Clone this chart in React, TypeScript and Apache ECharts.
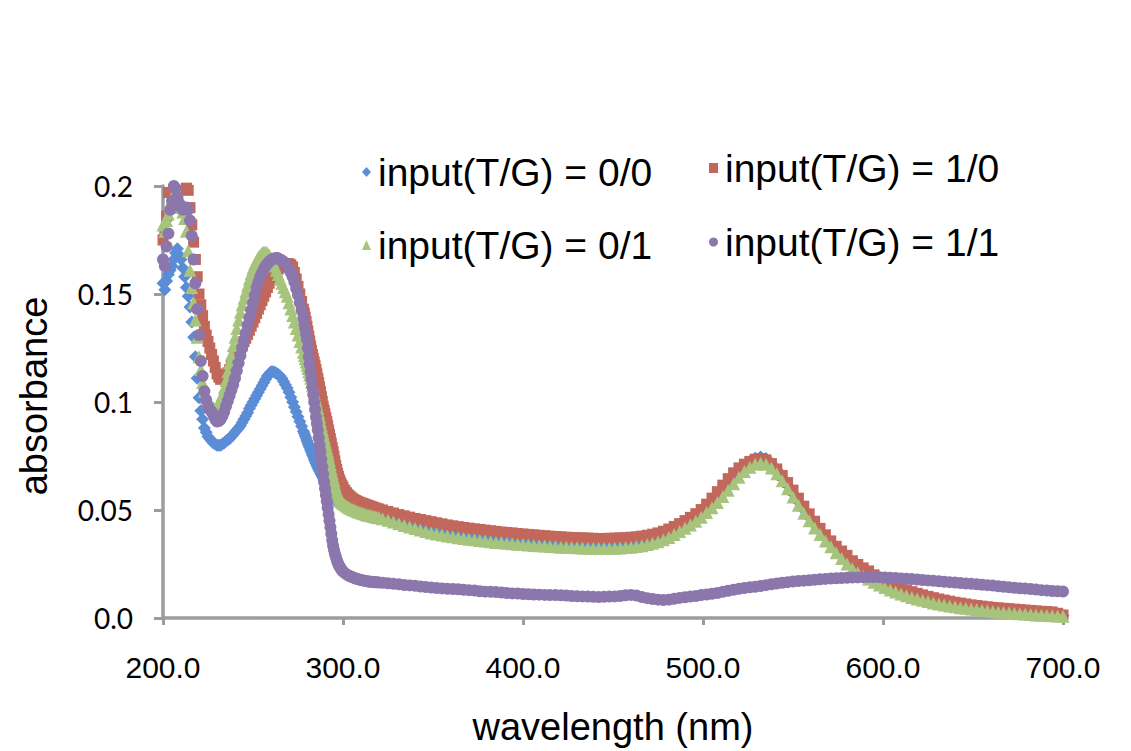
import React, { useEffect, useRef } from "react";
import * as echarts from "echarts";

// wavelength sampling grid: [start, end, step]
const wavelengthSegments: [number, number, number][] = [
  [200, 277, 1],
  [278, 300, 0.5],
  [301, 320, 1],
  [322, 700, 3],
];

const seriesNames = [
  "input(T/G) = 0/0",
  "input(T/G) = 1/0",
  "input(T/G) = 0/1",
  "input(T/G) = 1/1",
];

const xTicks = [200, 300, 400, 500, 600, 700];
const xTickLabels = ["200.0", "300.0", "400.0", "500.0", "600.0", "700.0"];
const yTickLabels = ["0.0", "0.05", "0.1", "0.15", "0.2"];

// input(T/G) = 0/0
const blue00 = [
  .155, .152, .156, .159, .161, .163, .166, .169, .171, .168,
  .166, .162, .158, .153, .149, .144, .137, .130, .121, .111,
  .102, .096, .092, .088, .086, .084, .083, .082, .081, .0805,
  .080, .080, .080, .0805, .081, .082, .0825, .083, .084, .085,
  .086, .087, .088, .089, .0905, .092, .0935, .095, .097, .0985,
  .100, .1015, .103, .1045, .106, .1075, .109, .1105, .112, .113,
  .114, .114, .1138, .1133, .1127, .112, .111, .1095, .108, .1065,
  .1045, .1022, .100, .0977, .0955, .0932, .091, .0888,
  .0865, .0854, .0843, .0832, .082, .0809, .0798, .0788, .0777, .0767,
  .0756, .0746, .0735, .0725, .0715, .0706, .0697, .0688, .068, .0671,
  .0663, .0655, .0647, .0638, .063, .0622, .0613, .0605, .0597, .0588,
  .058, .0573, .0567, .056, .0553, .0547, .054, .0538, .0536, .0534,
  .0532, .053, .0528, .0526, .0524,
  .052, .0514, .0509, .0504, .05, .0496, .0492, .0489, .0486, .0483,
  .048, .0477, .0474, .0472, .047, .0468, .0466, .0464, .0462, .046,
  .0468, .046, .0452, .0444, .0436, .0429, .0422, .0415, .0408, .0402,
  .0397, .0392, .0388, .0384, .038, .0376, .0373, .037, .0367, .0364,
  .0361, .0358, .0356, .0354, .0352, .035, .0348, .0346, .0344, .0342,
  .0341, .0339, .0338, .0336, .0335, .0334, .0333, .0332, .0331, .033,
  .033, .033, .033, .0331, .0332, .0334, .0336, .0339, .0343, .0348,
  .0354, .0362, .0372, .0384, .0398, .0413, .0429, .0446, .0464, .0484,
  .0507, .0532, .0559, .0588, .0619, .0649, .0677, .0703, .0725, .074,
  .0745, .0738, .0718, .0688, .0652, .0614, .0576, .0538, .0501, .0466,
  .0432, .04, .0371, .0343, .0317, .0292, .027, .0246, .0229, .0213,
  .0199, .0183, .0168, .0155, .0144, .0134, .0125, .0116, .0108, .0101,
  .0094, .0088, .0082, .0076, .0071, .0067, .0062, .0058, .0055, .0051,
  .0048, .0045, .0042, .0039, .0037, .0035, .0033, .0031, .0029, .0027,
  .0025, .0023, .0022, .0021, .0019, .0016, .0011,
];

// input(T/G) = 1/0
const red10 = [
  .175, .178, .186, .197, .204, .208, .212, .214, .213, .211,
  .209, .206, .203, .199, .198, .190, .182, .174, .166, .158,
  .150, .145, .140, .135, .131, .128, .125, .122, .119, .116,
  .113, .1115, .1105, .111, .1115, .1125, .1135, .115, .1165, .118,
  .1195, .121, .1225, .124, .126, .128, .1295, .1313, .1332, .1351,
  .137, .139, .141, .143, .145, .147, .149, .151, .153, .155,
  .1565, .158, .1595, .1605, .1615, .1625, .163, .1635, .164, .164,
  .164, .1635, .1625, .160, .157, .1535, .150, .1465,
  .143, .1412, .1393, .1372, .135, .1328, .1305, .1283, .126, .124,
  .122, .1202, .1185, .1168, .115, .113, .111, .109, .107, .1048,
  .1025, .1003, .098, .0962, .0945, .0927, .091, .089, .087, .085,
  .083, .081, .079, .077, .075, .0728, .0705, .0688, .067, .0655,
  .064, .063, .062, .0612, .0605,
  .0592, .058, .057, .0562, .0555, .0549, .0544, .054, .0536, .0533,
  .053, .0527, .0524, .0521, .0518, .0515, .0512, .0509, .0506, .0504,
  .05, .0493, .0486, .0479, .0473, .0467, .0461, .0456, .0451, .0446,
  .0441, .0436, .0431, .0427, .0423, .0419, .0416, .0413, .041, .0407,
  .0404, .0401, .0398, .0396, .0394, .0391, .0389, .0387, .0385, .0383,
  .0381, .0379, .0377, .0376, .0374, .0373, .0372, .0371, .037, .0369,
  .0368, .0368, .0369, .037, .0371, .0372, .0374, .0376, .0379, .0383,
  .0388, .0394, .0402, .0412, .0424, .0437, .0451, .0466, .0483, .0502,
  .0527, .0555, .0585, .0615, .0645, .0672, .0695, .0712, .0725, .0735,
  .0738, .0732, .0715, .069, .066, .0627, .0592, .0555, .0518, .0482,
  .0448, .0415, .0385, .0357, .0332, .031, .029, .0265, .0248, .0232,
  .0218, .02, .0184, .017, .0158, .0148, .0139, .013, .0122, .0114,
  .0107, .01, .0094, .0088, .0083, .0078, .0073, .0069, .0065, .0061,
  .0058, .0055, .0052, .0049, .0047, .0045, .0043, .0041, .0039, .0037,
  .0035, .0033, .0031, .003, .0028, .0022, .0014,
];

// input(T/G) = 0/1
const green01 = [
  .182, .179, .184, .187, .190, .194, .196, .198, .197, .194,
  .190, .188, .185, .179, .170, .161, .153, .146, .138, .130,
  .121, .115, .109, .105, .102, .100, .099, .098, .0975, .097,
  .098, .0995, .101, .1035, .1065, .110, .114, .118, .122, .126,
  .130, .134, .138, .1415, .145, .148, .151, .154, .157, .1595,
  .162, .164, .1655, .167, .168, .169, .1695, .1695, .169, .168,
  .1665, .165, .163, .161, .159, .157, .155, .153, .151, .149,
  .146, .143, .140, .137, .134, .131, .128, .1255,
  .123, .1215, .12, .1185, .117, .1155, .114, .1125, .111, .1093,
  .1075, .1058, .104, .1022, .1005, .0987, .097, .095, .093, .091,
  .089, .0872, .0855, .0837, .082, .0802, .0785, .0768, .075, .073,
  .071, .069, .067, .0652, .0635, .0617, .06, .0588, .0577, .0566,
  .0555, .0548, .0542, .0536, .053,
  .0524, .0518, .0513, .0508, .0504, .05, .0496, .0493, .049, .0487,
  .0484, .0481, .0478, .0476, .0474, .0472, .047, .0468, .0466, .0464,
  .046, .0452, .0444, .0436, .0428, .0421, .0414, .0407, .04, .0394,
  .0389, .0384, .038, .0376, .0372, .0368, .0365, .0362, .0359, .0356,
  .0353, .035, .0348, .0346, .0344, .0342, .034, .0338, .0336, .0334,
  .0333, .0331, .033, .0328, .0327, .0326, .0325, .0324, .0323, .0322,
  .0322, .0322, .0322, .0323, .0324, .0326, .0328, .0331, .0335, .034,
  .0346, .0353, .0362, .0373, .0386, .04, .0415, .0431, .0448, .0467,
  .0488, .051, .0535, .0562, .0592, .0622, .0652, .0678, .0698, .0712,
  .0717, .0712, .0695, .0668, .0635, .0598, .056, .0522, .0485, .045,
  .0417, .0386, .0357, .033, .0302, .0275, .025, .0228, .021, .0195,
  .018, .0166, .0153, .0141, .013, .012, .0111, .0103, .0095, .0088,
  .0082, .0076, .007, .0065, .006, .0056, .0052, .0048, .0045, .0042,
  .0039, .0036, .0033, .003, .0028, .0026, .0024, .0022, .002, .0018,
  .0016, .0014, .0013, .0012, .001, .0009, .0008,
];

// input(T/G) = 1/1
const purple11 = [
  .166, .163, .172, .178, .189, .193, .200, .199, .195, .192,
  .190, .189, .190, .190, .189, .184, .177, .166, .155, .143,
  .131, .119, .112, .105, .101, .098, .0965, .0955, .094, .092,
  .091, .0912, .092, .0935, .0955, .098, .1005, .103, .1055, .108,
  .111, .1145, .118, .1215, .125, .1285, .132, .1355, .139, .1425,
  .146, .1495, .153, .1555, .158, .1598, .1615, .163, .164, .165,
  .1657, .1662, .1665, .1667, .1665, .166, .1655, .165, .164, .163,
  .1615, .160, .158, .1555, .1525, .1495, .146, .1425,
  .139, .1365, .134, .1315, .129, .125, .121, .1175, .114, .1105,
  .107, .1035, .1, .0965, .093, .09, .087, .0835, .08, .077,
  .0735, .07, .0665, .063, .06, .057, .054, .051, .048, .045,
  .042, .039, .036, .0335, .0315, .0298, .0283, .027, .0258, .0248,
  .024, .0233, .0226, .022, .0215,
  .0208, .0202, .0197, .0193, .019, .0186, .0183, .018, .0178, .0176,
  .0174, .0172, .0171, .0169, .0168, .0168, .0166, .0165, .0165, .0164,
  .0163, .0161, .0158, .0156, .0153, .0151, .0149, .0146, .0143, .0141,
  .0139, .0137, .0135, .0134, .0133, .0131, .0129, .0127, .0124, .0122,
  .0121, .012, .0118, .0116, .0114, .0113, .0111, .011, .0109, .0108,
  .0107, .0106, .0106, .0105, .0104, .0102, .0101, .01, .0099, .0098,
  .0097, .0098, .0099, .01, .0102, .0105, .0107, .0104, .0097, .0092,
  .0088, .0085, .0083, .0085, .0089, .0093, .0096, .0099, .0102, .0106,
  .0109, .0112, .0116, .0121, .0126, .0131, .0135, .0139, .0142, .0145,
  .0148, .0152, .0156, .016, .0163, .0166, .0169, .0171, .0173, .0175,
  .0177, .0179, .0181, .0183, .0184, .0185, .0186, .0187, .0188, .0189,
  .019, .019, .0189, .0188, .0186, .0185, .0183, .0182, .018, .0178,
  .0176, .0174, .0172, .017, .0168, .0166, .0164, .0162, .016, .0158,
  .0156, .0154, .0152, .015, .0147, .0145, .0142, .014, .0138, .0136,
  .0134, .0132, .0129, .0127, .0125, .0124, .0123,
];

function buildWavelengths(): number[] {
  const out: number[] = [];
  for (const [a, b, s] of wavelengthSegments) {
    for (let w = a; w <= b + 1e-9; w += s) out.push(Math.round(w * 10) / 10);
  }
  return out;
}

export default function App() {
  const ref = useRef<HTMLDivElement>(null);

  useEffect(() => {
    if (!ref.current) return;
    const chart = echarts.init(ref.current, null, { renderer: "svg" });
    const wl = buildWavelengths();
    const pair = (vals: number[]) => wl.map((w, i) => [w, vals[i]]);

    const styles = [
      { data: blue00, symbol: "diamond", size: 13, color: "#5B8DD6" },
      { data: red10, symbol: "rect", size: 11, color: "#C2675B" },
      { data: green01, symbol: "triangle", size: 13, color: "#A6C47C" },
      { data: purple11, symbol: "circle", size: 12, color: "#8B77AC" },
    ];

    const legendPos = [
      { left: 362, top: 152 },
      { left: 709, top: 148 },
      { left: 362, top: 225 },
      { left: 709, top: 222 },
    ];

    const axisGray = "#9C9C9E";

    chart.setOption({
      animation: false,
      backgroundColor: "#ffffff",
      grid: { left: 163, right: 68, top: 186, bottom: 130, containLabel: false },
      legend: seriesNames.map((n, i) => ({
        data: [{ name: n, icon: styles[i].symbol }],
        left: legendPos[i].left,
        top: legendPos[i].top,
        padding: 0,
        itemWidth: 9,
        itemHeight: 10,
        selectedMode: false,
        textStyle: {
          fontFamily: "Liberation Sans",
          fontSize: 39,
          lineHeight: 40,
          color: "#000",
          padding: [0, 0, 0, 2],
        },
      })),
      xAxis: {
        type: "value",
        min: 200,
        max: 700,
        interval: 100,
        name: "wavelength (nm)",
        nameLocation: "middle",
        nameGap: 90,
        nameTextStyle: { fontFamily: "Liberation Sans", fontSize: 38, color: "#000" },
        axisLine: { show: true, lineStyle: { color: axisGray, width: 3.5 } },
        axisTick: { show: true, length: 7, lineStyle: { color: axisGray, width: 3 } },
        splitLine: { show: false },
        axisLabel: {
          margin: 34,
          fontFamily: "Liberation Sans",
          fontSize: 30,
          color: "#000",
          formatter: (v: number) => xTickLabels[xTicks.indexOf(Math.round(v))] ?? String(v),
        },
      },
      yAxis: {
        type: "value",
        min: 0,
        max: 0.2,
        interval: 0.05,
        axisLine: { show: true, lineStyle: { color: axisGray, width: 3.5 } },
        axisTick: { show: true, length: 9, lineStyle: { color: axisGray, width: 3 } },
        splitLine: { show: false },
        axisLabel: {
          margin: 30,
          fontFamily: "Lato",
          fontSize: 28,
          color: "#000",
          formatter: (v: number) => yTickLabels[Math.round(v / 0.05)] ?? String(v),
        },
      },
      graphic: [
        {
          type: "text",
          x: 34,
          y: 396,
          rotation: Math.PI / 2,
          style: {
            text: "absorbance",
            fontFamily: "Liberation Sans",
            fontSize: 38,
            fill: "#000",
            textAlign: "center",
            textVerticalAlign: "middle",
          },
        },
      ],
      series: styles.map((s, i) => ({
        type: "scatter",
        name: seriesNames[i],
        data: pair(s.data),
        symbol: s.symbol,
        symbolSize: s.size,
        clip: true,
        itemStyle: { color: s.color, opacity: 1 },
        emphasis: { disabled: true },
      })),
    });

    return () => chart.dispose();
  }, []);

  return (
    <div
      ref={ref}
      style={{ position: "fixed", left: 0, top: 0, width: 1131, height: 751, background: "#fff" }}
    />
  );
}
